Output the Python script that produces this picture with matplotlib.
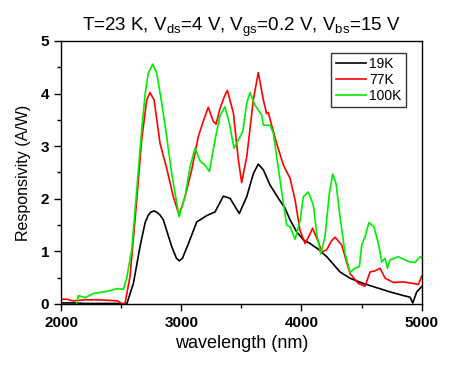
import matplotlib
matplotlib.use('Agg')
import matplotlib.pyplot as plt

plt.rcParams['font.family'] = ['Liberation Sans', 'DejaVu Sans']
plt.rcParams['mathtext.default'] = 'regular'

# 19K
wl_19k = [2000, 2100, 2200, 2300, 2400, 2500, 2547, 2602, 2657, 2700, 2726, 2750,
          2774, 2800, 2824, 2851, 2921, 2960, 2984, 3010, 3060, 3129, 3212, 3281,
          3350, 3406, 3483, 3545, 3600, 3641, 3683, 3739, 3808, 3864, 3905, 3961,
          4016, 4072, 4141, 4210, 4321, 4404, 4515, 4626, 4737, 4848, 4903, 4926,
          4959, 5000]
r_19k = [0.02, 0.02, 0.01, 0.01, 0.01, 0.01, 0.0, 0.39, 1.09, 1.55, 1.69, 1.75,
         1.77, 1.74, 1.69, 1.60, 1.09, 0.87, 0.82, 0.87, 1.15, 1.56, 1.68, 1.75,
         2.05, 2.01, 1.72, 2.04, 2.48, 2.66, 2.55, 2.26, 2.01, 1.82, 1.60, 1.37,
         1.22, 1.15, 1.04, 0.90, 0.61, 0.49, 0.39, 0.31, 0.23, 0.16, 0.13, 0.02,
         0.23, 0.33]

# 77K
wl_77k = [2000, 2050, 2100, 2200, 2300, 2400, 2470, 2510, 2532, 2574, 2630, 2671,
          2713, 2740, 2774, 2824, 2879, 2934, 2982, 3032, 3087, 3142, 3184, 3225,
          3267, 3290, 3323, 3360, 3384, 3434, 3475, 3503, 3545, 3600, 3641, 3683,
          3710, 3725, 3740, 3794, 3850, 3905, 3947, 3988, 4030, 4065, 4093, 4141,
          4169, 4210, 4250, 4280, 4335, 4404, 4473, 4529, 4571, 4612, 4654, 4696,
          4765, 4848, 4931, 4973, 5000]
r_77k = [0.09, 0.09, 0.06, 0.08, 0.08, 0.07, 0.06, 0.0, 0.01, 0.52, 1.98, 3.12,
         3.88, 4.02, 3.88, 3.05, 2.58, 2.04, 1.69, 2.04, 2.55, 3.18, 3.48, 3.74,
         3.47, 3.42, 3.72, 3.95, 4.06, 3.63, 2.74, 2.31, 2.80, 3.88, 4.40, 3.88,
         3.62, 3.64, 3.50, 3.05, 2.64, 2.39, 1.98, 1.40, 1.15, 1.30, 1.44, 1.18,
         0.99, 1.03, 1.20, 1.27, 1.12, 0.58, 0.39, 0.34, 0.61, 0.63, 0.68, 0.49,
         0.41, 0.42, 0.39, 0.37, 0.53]

# 100K
wl_100k = [2130, 2144, 2200, 2269, 2352, 2400, 2463, 2519, 2546, 2588, 2630, 2671,
           2700, 2726, 2763, 2796, 2838, 2879, 2921, 2982, 3032, 3073, 3115, 3156,
           3198, 3234, 3281, 3323, 3364, 3400, 3439, 3475, 3512, 3545, 3572, 3614,
           3670, 3683, 3739, 3766, 3808, 3850, 3877, 3905, 3947, 3988, 4016, 4058,
           4100, 4127, 4160, 4196, 4232, 4260, 4288, 4321, 4363, 4404, 4446, 4482,
           4501, 4529, 4562, 4604, 4640, 4668, 4696, 4715, 4737, 4806, 4848, 4903,
           4945, 4987, 5000]
r_100k = [0.0, 0.16, 0.12, 0.20, 0.23, 0.25, 0.29, 0.28, 0.49, 1.03, 2.17, 3.31,
          4.00, 4.39, 4.56, 4.39, 3.82, 3.18, 2.48, 1.66, 2.04, 2.61, 2.96, 2.72,
          2.64, 2.52, 3.12, 3.58, 3.75, 3.44, 2.96, 3.12, 3.28, 3.82, 4.02, 3.78,
          3.59, 3.40, 3.40, 3.25, 2.58, 1.91, 1.50, 1.47, 1.23, 1.58, 2.04, 2.13,
          1.87, 1.34, 0.95, 1.28, 2.10, 2.47, 2.29, 1.66, 0.96, 0.60, 0.68, 0.71,
          1.12, 1.28, 1.55, 1.46, 1.15, 0.80, 0.87, 0.68, 0.84, 0.90, 0.85, 0.80,
          0.79, 0.90, 0.88]

fig = plt.figure(figsize=(4.5, 3.66), dpi=100)
ax = fig.add_axes([0.1356, 0.1694, 0.8014, 0.7186])

ax.plot(wl_19k, r_19k, color='black', linewidth=1.2, label='19K')
ax.plot(wl_77k, r_77k, color='#ff0000', linewidth=1.2, label='77K')
ax.plot(wl_100k, r_100k, color='#00ee00', linewidth=1.2, label='100K')

ax.set_xlim(2000, 5000)
ax.set_ylim(0, 5)
ax.set_xticks([2000, 3000, 4000, 5000])
ax.set_xticks([2500, 3500, 4500], minor=True)
ax.set_yticks([0, 1, 2, 3, 4, 5])
ax.set_yticks([0.5, 1.5, 2.5, 3.5, 4.5], minor=True)
ax.tick_params(which='major', direction='out', length=5, width=1,
               top=False, right=False, labelsize=11)
ax.tick_params(which='minor', direction='out', length=3, width=1,
               top=False, right=False)
for lab in ax.get_xticklabels() + ax.get_yticklabels():
    lab.set_fontweight('bold')
for sp in ax.spines.values():
    sp.set_linewidth(1)

ax.set_xlabel('wavelength (nm)', fontsize=13, labelpad=4)
ax.set_ylabel('Responsivity (A/W)', fontsize=11.5, labelpad=7)
ax.set_title('T=23 K, V$_{ds}$=4 V, V$_{gs}$=0.2 V, V$_{bs}$=15 V',
             fontsize=13.5, pad=7)

leg = ax.legend(loc='upper left', bbox_to_anchor=(0.75, 0.955), fontsize=10,
                frameon=True, fancybox=False, handlelength=2.2,
                handletextpad=0.2, borderpad=0.3, labelspacing=0.15,
                borderaxespad=0)
leg.get_frame().set_edgecolor('black')
leg.get_frame().set_linewidth(1)

plt.savefig('out.png', dpi=100, facecolor='white')
plt.close()
